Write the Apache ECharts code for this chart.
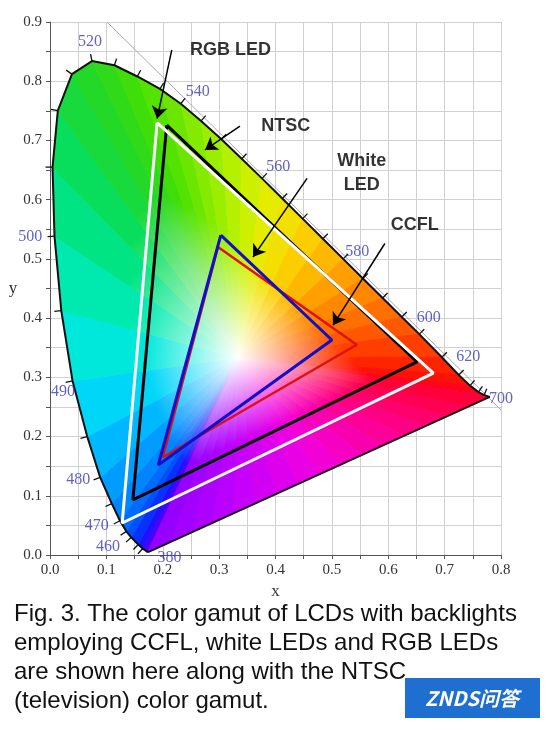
<!DOCTYPE html>
<html><head><meta charset="utf-8">
<script src="https://cdn.jsdelivr.net/npm/echarts@6/dist/echarts.min.js"></script>
<style>html,body{margin:0;padding:0;background:#fff}#c{width:550px;height:730px}</style>
</head><body><div id="c"></div>
<script>
// spectral locus as drawn in the reference
const locusWl = [380,420,440,450,460,465,470,475,480,485,490,495,500,505,510,515,520,525,530,535,540,545,550,555,560,565,570,575,580,585,590,595,600,610,620,630,640,650,700];
const locusX = [0.1741,0.1714,0.1644,0.1566,0.1440,0.1355,0.1241,0.1096,0.0890,0.0660,0.0400,0.0200,0.0080,0.0045,0.0139,0.0389,0.0745,0.1142,0.1550,0.1950,0.2320,0.2680,0.3040,0.3400,0.3760,0.4120,0.4480,0.4840,0.5200,0.5550,0.5900,0.6240,0.6550,0.6950,0.7250,0.7450,0.7600,0.7700,0.7800];
const locusY = [0.0050,0.0051,0.0109,0.0177,0.0297,0.0399,0.0578,0.0868,0.1310,0.2000,0.2940,0.4127,0.5384,0.6548,0.7502,0.8120,0.8340,0.8270,0.8080,0.7870,0.7620,0.7330,0.7020,0.6690,0.6360,0.6020,0.5680,0.5340,0.5000,0.4670,0.4340,0.4020,0.3730,0.3340,0.3040,0.2860,0.2750,0.2700,0.2670];
const whitePoint = [0.3333,0.3333];
const diagonal = [[0.101,0.9],[0.8,0.245]];
// gamut triangles [x,y]
const rgbLed = [[0.190,0.730],[0.680,0.307],[0.128,0.054]];
const ntsc = [[0.207,0.726],[0.651,0.326],[0.147,0.093]];
const whiteLed = [[0.303,0.540],[0.500,0.363],[0.192,0.152]];
const ccfl = [[0.298,0.520],[0.544,0.355],[0.200,0.165]];
// wavelength labels
const wlLabels = ['520','540','560','580','600','620','700','500','490','480','470','460','380'];
const wlLabelPos = [[0.071,0.866],[0.262,0.782],[0.405,0.655],[0.545,0.512],[0.672,0.400],[0.742,0.334],[0.800,0.264],[-0.035,0.537],[0.023,0.276],[0.050,0.127],[0.083,0.049],[0.103,0.014],[0.212,-0.004]];
// callouts
const calloutText = ['RGB LED','NTSC','White\nLED','CCFL'];
const calloutPos = [[0.320,0.852],[0.418,0.724],[0.553,0.645],[0.647,0.558]];
const arrows = [[[0.216,0.853],[0.190,0.737]],[[0.337,0.724],[0.275,0.684]],[[0.456,0.636],[0.360,0.503]],[[0.594,0.526],[0.502,0.388]]];
const captionLines = ['Fig. 3. The color gamut of LCDs with backlights','employing CCFL, white LEDs and RGB LEDs','are shown here along with the NTSC','(television) color gamut.'];

const locusCol = ['#9000ff','#6000ff','#3000ff','#1020ff','#0040ff','#0060ff','#0078ff','#0090ff','#00a8ff','#00c8ff','#00e4f0','#00ecc8','#00e898','#00e070','#10dc48','#20d830','#28d820','#38dc10','#48e000','#60e400','#78e800','#90ec00','#a8f000','#c0f000','#d8f000','#f0e800','#f8d800','#ffc400','#ffac00','#ff9400','#ff7c00','#ff6400','#ff4c00','#ff3000','#ff1800','#ff0a10','#ff0020','#ff0028','#ff0030'];
function hx(c){return [parseInt(c.substr(1,2),16),parseInt(c.substr(3,2),16),parseInt(c.substr(5,2),16)];}
function mix(a,b,t){const A=hx(a),B=hx(b);return 'rgb('+A.map((v,i)=>Math.round(v+(B[i]-v)*t)).join(',')+')';}
const purpleStops=['#ff0030','#ff0090','#f000e0','#c000ff','#9000ff'];
function purpleCol(t){const s=t*(purpleStops.length-1);const i=Math.min(Math.floor(s),purpleStops.length-2);return mix(purpleStops[i],purpleStops[i+1],s-i);}
const NP=16;
const n=locusX.length;
const segs=[];
for(let i=0;i<n-1;i++) segs.push([i]);
for(let k=0;k<NP;k++) segs.push([n-1+k]);
function segInfo(idx){
  if(idx<n-1){return {a:[locusX[idx],locusY[idx]],b:[locusX[idx+1],locusY[idx+1]],c:mix(locusCol[idx],locusCol[idx+1],0.5)};}
  const k=idx-(n-1);const t0=k/NP,t1=(k+1)/NP;
  const ax=locusX[n-1]+(locusX[0]-locusX[n-1])*t0, ay=locusY[n-1]+(locusY[0]-locusY[n-1])*t0;
  const bx=locusX[n-1]+(locusX[0]-locusX[n-1])*t1, by=locusY[n-1]+(locusY[0]-locusY[n-1])*t1;
  return {a:[ax,ay],b:[bx,by],c:purpleCol((t0+t1)/2)};
}
const locusLine=locusX.map((x,i)=>[x,locusY[i]]); locusLine.push([locusX[0],locusY[0]]);
const tickIdx=[]; for(let i=2;i<n-1;i++) tickIdx.push([i]);
const closeTri=t=>t.concat([t[0]]);

const chart=echarts.init(document.getElementById('c'));
const serif='Liberation Serif';
const axisCommon={min:0,interval:0.05,axisLine:{show:true,lineStyle:{color:'#555'}},axisTick:{show:true,length:4,lineStyle:{color:'#555'}},
  splitLine:{show:true,lineStyle:{color:'#d0d0d0',width:1}},
  axisLabel:{color:'#333',fontFamily:serif,fontSize:15,formatter:v=>{const r=Math.round(v*100);return r%10===0?(r/100).toFixed(1):'';}},
  nameTextStyle:{color:'#333',fontFamily:serif,fontSize:17}};
chart.setOption({
  animation:false,
  grid:{left:50,right:49,top:22,bottom:175,show:false},
  xAxis:Object.assign({},axisCommon,{type:'value',max:0.8,name:'x',nameLocation:'middle',nameGap:20}),
  yAxis:Object.assign({},axisCommon,{type:'value',max:0.9,name:'y',nameLocation:'middle',nameGap:32,nameRotate:0}),
  series:[
    {type:'custom',data:segs,z:1,clip:false,renderItem:function(p,api){
      const s=segInfo(api.value(0));const p0=api.coord(whitePoint),p1=api.coord(s.a),p2=api.coord(s.b);
      const mx=(p1[0]+p2[0])/2,my=(p1[1]+p2[1])/2;
      const g=new echarts.graphic.LinearGradient(p0[0],p0[1],mx,my,[{offset:0,color:'#ffffff'},{offset:0.55,color:s.c},{offset:1,color:s.c}],true);
      return {type:'polygon',shape:{points:[p0,p1,p2]},style:{fill:g,stroke:g,lineWidth:1}};
    }},
    {type:'custom',data:tickIdx,z:3,clip:false,renderItem:function(p,api){
      const i=api.value(0);const a=api.coord([locusX[i-1],locusY[i-1]]),b=api.coord([locusX[i+1],locusY[i+1]]),c=api.coord([locusX[i],locusY[i]]);
      let dx=b[0]-a[0],dy=b[1]-a[1];const L=Math.hypot(dx,dy)||1;dx/=L;dy/=L;
      const nx=-dy,ny=dx;const len=7;
      return {type:'line',shape:{x1:c[0],y1:c[1],x2:c[0]-nx*len,y2:c[1]-ny*len},style:{stroke:'#111',lineWidth:1.3}};
    }},
    {type:'line',data:diagonal,symbol:'none',lineStyle:{color:'#aaa',width:1},z:0},
    {type:'line',data:locusLine,symbol:'none',lineStyle:{color:'#111',width:2},z:3},
    {type:'line',data:closeTri(ccfl),symbol:'none',lineStyle:{color:'#e01010',width:2.5},z:4},
    {type:'line',data:closeTri(whiteLed),symbol:'none',lineStyle:{color:'#1010c8',width:3},z:5},
    {type:'line',data:closeTri(ntsc),symbol:'none',lineStyle:{color:'#000',width:3},z:4},
    {type:'line',data:closeTri(rgbLed),symbol:'none',lineStyle:{color:'#fff',width:3},z:4},
    {type:'lines',coordinateSystem:'cartesian2d',data:arrows.map(a=>({coords:a})),symbol:['none','arrow'],symbolSize:12,lineStyle:{color:'#000',width:1.5,opacity:1},z:6},
    {type:'scatter',clip:false,data:wlLabelPos.map((p,i)=>({value:p,label:{formatter:wlLabels[i]}})),symbolSize:0,z:8,
      label:{show:true,position:'inside',color:'#3a3ab8',fontFamily:serif,fontSize:16}},
    {type:'scatter',clip:false,data:calloutPos.map((p,i)=>({value:p,label:{formatter:calloutText[i]}})),symbolSize:0,z:8,
      label:{show:true,position:'inside',color:'#000',fontFamily:'Liberation Sans',fontWeight:'bold',fontSize:18,lineHeight:24,align:'center'}}
  ],
  graphic:[
    {type:'text',left:14,top:600,style:{text:captionLines.join('\n'),font:'24px "Liberation Sans"',lineHeight:29,fill:'#111'}},
    {type:'group',left:405,top:678,children:[
      {type:'rect',shape:{x:0,y:0,width:135,height:40},style:{fill:'#1f6fd0'}},
      {type:'text',x:67,y:20,style:{text:'ZNDS问答',font:'bold italic 20px "Noto Sans CJK SC"',fill:'#fff',align:'center',verticalAlign:'middle'}}
    ]}
  ]
});
</script></body></html>
